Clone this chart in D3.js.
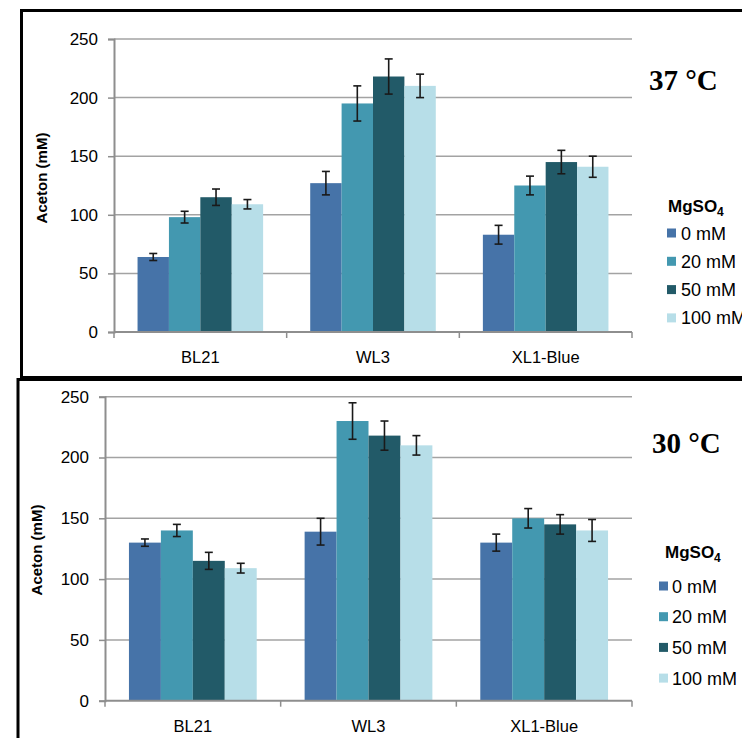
<!DOCTYPE html>
<html>
<head>
<meta charset="utf-8">
<script src="https://cdn.jsdelivr.net/npm/d3@7"></script>
<style>
  body { margin: 0; background: #fff; }
  svg { display: block; }
  text { font-family: "Liberation Sans", Arial, sans-serif; fill: #000; }
</style>
</head>
<body>
<svg id="chart" width="742" height="738"></svg>
<script>
var strains = ["BL21", "WL3", "XL1-Blue"];
var concs = ["0 mM", "20 mM", "50 mM", "100 mM"];
var yTicks = [0, 50, 100, 150, 200, 250];
var colors = ["#4673a8", "#4398b0", "#225a68", "#b7dee8"];

// 37 °C, rows = strain, cols = MgSO4
var values37 = [[64, 98, 115, 109], [127, 195, 218, 210], [83, 125, 145, 141]];
var errors37 = [[3, 5, 7, 4], [10, 15, 15, 10], [8, 8, 10, 9]];
// 30 °C
var values30 = [[130, 140, 115, 109], [139, 230, 218, 210], [130, 150, 145, 140]];
var errors30 = [[3, 5, 7, 4], [11, 15, 12, 8], [7, 8, 8, 9]];

var svg = d3.select("#chart");

function drawPanel(p) {
    var g = svg.append("g");

    // panel frame
    g.append("rect")
    .attr("x", p.box[0]).attr("y", p.box[1])
    .attr("width", p.box[2]).attr("height", p.box[3])
    .attr("fill", "#fff")
    .attr("stroke", "#000")
    .attr("stroke-width", 3);

    var y = d3.scaleLinear().domain([0, 250]).range([p.y0, p.y1]);
    var x = d3.scaleBand().domain(strains).range([p.x0, p.x1]);
    var xs = d3.scaleBand().domain(concs).range([0, x.bandwidth()])
    .paddingInner(0).paddingOuter(0.75);

    // gridlines
    g.selectAll(".grid")
    .data(yTicks.filter(function(d){ return d > 0; }))
    .enter()
    .append("line")
    .attr("x1", p.x0).attr("x2", p.x1)
    .attr("y1", function(d){ return y(d); })
    .attr("y2", function(d){ return y(d); })
    .attr("stroke", "#a3a3a3")
    .attr("stroke-width", 1.5);

    // y axis
    var ya = g.append("g")
    .attr("transform", "translate(" + p.x0 + ",0)")
    .call(d3.axisLeft(y).tickValues(yTicks).tickSize(6).tickPadding(10));
    ya.select(".domain").attr("stroke", "#8e8e8e").attr("stroke-width", 2);
    ya.selectAll(".tick line").attr("stroke", "#8e8e8e").attr("stroke-width", 1.5);
    ya.selectAll(".tick text")
    .style("font-family", "Liberation Sans, Arial, sans-serif")
    .style("font-size", p.fs + "px")
    .attr("fill", "#111");

    g.append("text")
    .attr("transform", "translate(" + p.titleX + "," + p.titleY + ") rotate(-90)")
    .attr("text-anchor", "middle")
    .attr("dy", "0.35em")
    .style("font-size", (p.fs - 2) + "px")
    .style("font-weight", "bold")
    .text("Aceton (mM)");

    // bars
    var groups = g.selectAll(".strain")
    .data(p.values)
    .enter()
    .append("g")
    .attr("transform", function(d, i){ return "translate(" + x(strains[i]) + ",0)"; });

    groups.selectAll("rect")
    .data(function(d){ return d; })
    .enter()
    .append("rect")
    .attr("x", function(d, j){ return xs(concs[j]); })
    .attr("width", xs.bandwidth())
    .attr("y", function(d){ return y(d); })
    .attr("height", function(d){ return y(0) - y(d); })
    .style("fill", function(d, j){ return colors[j]; });

    // error bars
    var eb = groups.selectAll(".err")
    .data(function(d, i){
        return d.map(function(v, j){ return { v: v, e: p.errors[i][j], j: j }; });
    })
    .enter()
    .append("g")
    .attr("transform", function(d){ return "translate(" + (xs(concs[d.j]) + xs.bandwidth() / 2) + ",0)"; })
    .attr("stroke", "#1a1a1a")
    .attr("stroke-width", 1.6);
    eb.append("line")
    .attr("y1", function(d){ return y(d.v - d.e); })
    .attr("y2", function(d){ return y(d.v + d.e); });
    eb.append("line")
    .attr("x1", -4).attr("x2", 4)
    .attr("y1", function(d){ return y(d.v + d.e); })
    .attr("y2", function(d){ return y(d.v + d.e); });
    eb.append("line")
    .attr("x1", -4).attr("x2", 4)
    .attr("y1", function(d){ return y(d.v - d.e); })
    .attr("y2", function(d){ return y(d.v - d.e); });

    // x axis
    g.append("line")
    .attr("x1", p.x0).attr("x2", p.x1)
    .attr("y1", y(0)).attr("y2", y(0))
    .attr("stroke", "#8e8e8e").attr("stroke-width", 2);
    var edges = strains.map(function(s){ return x(s); }).concat([p.x1]);
    g.selectAll(".xt")
    .data(edges)
    .enter()
    .append("line")
    .attr("x1", function(d){ return d; }).attr("x2", function(d){ return d; })
    .attr("y1", y(0)).attr("y2", y(0) + 6)
    .attr("stroke", "#8e8e8e").attr("stroke-width", 1.5);
    g.selectAll(".xl")
    .data(strains)
    .enter()
    .append("text")
    .attr("x", function(d){ return x(d) + x.bandwidth() / 2; })
    .attr("y", y(0) + 31)
    .attr("text-anchor", "middle")
    .style("font-size", "16.5px")
    .attr("fill", "#111")
    .text(function(d){ return d; });

    // temperature label
    g.append("text")
    .attr("x", p.tempX).attr("y", p.tempY)
    .style("font-family", "Liberation Serif, Times New Roman, serif")
    .style("font-weight", "bold")
    .style("font-size", "29px")
    .text(p.temp);

    // legend
    var lt = g.append("text")
    .attr("x", p.legX).attr("y", p.legY)
    .style("font-size", "17px")
    .style("font-weight", "bold");
    lt.append("tspan").text("MgSO");
    lt.append("tspan").attr("dy", 4).style("font-size", "12px").text("4");

    var items = g.selectAll(".leg")
    .data(concs)
    .enter()
    .append("g")
    .attr("transform", function(d, i){ return "translate(" + p.swX + "," + (p.legY0 + i * p.legStep) + ")"; });
    items.append("rect")
    .attr("x", 0).attr("y", -4.5)
    .attr("width", 9).attr("height", 9)
    .style("fill", function(d, i){ return colors[i]; });
    items.append("text")
    .attr("x", p.txX)
    .attr("y", 6.5)
    .style("font-size", "18px")
    .attr("fill", "#111")
    .text(function(d){ return d; });
}

drawPanel({
    box: [21.5, 10.5, 740, 367],
    x0: 114, x1: 632, y0: 332, y1: 39, fs: 17,
    titleX: 42, titleY: 178,
    values: values37, errors: errors37,
    temp: "37 °C", tempX: 649, tempY: 90,
    legX: 668, legY: 212, swX: 667, txX: 14, legY0: 233, legStep: 28.3
});

drawPanel({
    box: [18, 379.5, 740, 400],
    x0: 105, x1: 632, y0: 700.7, y1: 396.7, fs: 17,
    titleX: 37, titleY: 550,
    values: values30, errors: errors30,
    temp: "30 °C", tempX: 652, tempY: 453,
    legX: 665, legY: 558, swX: 659, txX: 13, legY0: 586, legStep: 30.7
});
</script>
</body>
</html>
